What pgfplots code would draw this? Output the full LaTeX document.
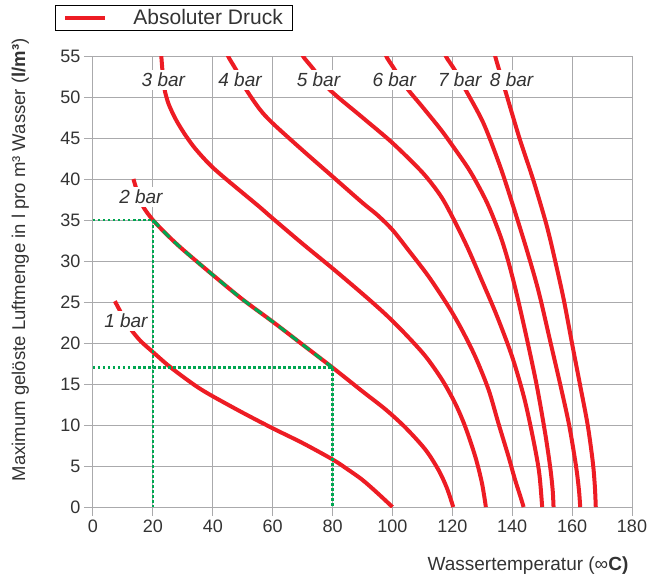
\documentclass[border=0pt]{standalone}
\usepackage{fontspec}
\setmainfont{Liberation Sans}
\usepackage{pgfplots}
\pgfplotsset{compat=1.18}
\definecolor{cred}{RGB}{237,28,36}
\definecolor{cgreen}{RGB}{0,166,81}
\definecolor{cgrid}{RGB}{170,170,172}
\definecolor{ctext}{RGB}{51,51,51}
\begin{document}
\begin{tikzpicture}
\begin{axis}[
  scale only axis, width=539pt, height=451pt,
  xmin=0, xmax=180, ymin=0, ymax=55,
  xtick={0,20,...,180}, ytick={0,5,...,55},
  grid=major, grid style={cgrid, line width=1pt},
  axis line style={cgrid, line width=1pt},
  tick style={cgrid, line width=1pt},
  tick align=outside, tick pos=left, major tick length=9pt,
  /pgf/number format/assume math mode=true,
  ticklabel style={font=\fontsize{18}{20}\selectfont, text=ctext},
  xlabel={Wassertemperatur (∞\textbf{C)}},
  ylabel={Maximum gelöste Luftmenge in l pro m³ Wasser (\textbf{l/m³})},
  xlabel style={font=\fontsize{19}{21}\selectfont, text=ctext, at={(axis description cs:0.807,-0.129)}, anchor=center},
  ylabel style={font=\fontsize{18.5}{20}\selectfont, text=ctext, at={(axis description cs:-0.135,0.548)}, anchor=center},
  legend style={at={(axis description cs:-0.0705,1.113)}, anchor=north west, draw=black, line width=0.8pt, fill=white,
    font=\fontsize{21}{23}\selectfont, text=ctext, inner xsep=8pt, inner ysep=2pt},
  legend image code/.code={\draw[#1] (0pt,0pt) -- (40pt,0pt);},
  every axis plot/.append style={line width=4pt},
]
% 1 bar
\addplot[cred, smooth, tension=0.5] coordinates {(7.3,25.1) (9.2,23.8) (11,22.6) (13.2,21.4) (16,20.2) (20,18.9) (25,17.3) (30,15.9) (35,14.6) (40,13.5) (50,11.5) (60,9.6) (70,7.8) (80,5.8) (85,4.6) (90,3.3) (95,1.7) (100,0)};
\addlegendentry{\hspace{24pt}Absoluter Druck\hspace{10pt}}
% 2 bar
\addplot[cred, smooth, tension=0.5, forget plot] coordinates {(13.5,40) (15,38.2) (16.8,36.6) (20,35) (25,33.1) (30,31.4) (40,28.3) (50,25.3) (60,22.6) (70,19.8) (80,17) (90,14.1) (97.7,11.9) (104.3,9.7) (111,7) (115.4,4.5) (118.2,2.3) (120.3,0)};
% 3 bar
\addplot[cred, smooth, tension=0.5, forget plot] coordinates {(22.55,56) (22.8,55) (23.2,53.2) (23.8,51.1) (25.2,49.2) (27.6,47.3) (30.4,45.6) (33.5,44.0) (36.8,42.6) (40,41.4) (44.4,40.0) (50,38.3) (55.6,36.6) (60,35.2) (70,32.1) (80,29.1) (90,26) (97.7,23.5) (104.3,21.1) (111,18.4) (116.6,15.5) (121,12.6) (124.3,9.8) (127.7,6.1) (129.9,2.9) (131.2,0)};
% 4 bar
\addplot[cred, smooth, tension=0.5, forget plot] coordinates {(44.8,56) (45.1,55) (47.8,53.3) (51,51) (55.7,48.5) (60,46.8) (70,43.5) (80,40.3) (90,37.1) (95,35.6) (100,33.8) (105.4,31.3) (112.1,28.1) (118.8,24.4) (123.2,21.6) (127.7,18.3) (132.1,14.3) (135.4,10.2) (138.8,6.1) (140.8,3.5) (142.8,1.2) (143.8,0)};
% 5 bar
\addplot[cred, smooth, tension=0.5, forget plot] coordinates {(69.5,56) (70.1,55) (73.4,53.5) (79,50.9) (90,47.5) (100,44.4) (110,40.8) (116,38) (120,35.4) (125,31.7) (130,27.5) (135,23.2) (140,18.3) (144,13.3) (147,8.3) (149,4.2) (150,0)};
% 6 bar
\addplot[cred, smooth, tension=0.5, forget plot] coordinates {(97.5,56) (97.9,55) (100.3,53.6) (104.8,51.1) (110,48.8) (116,46.1) (120,44.1) (126,40.9) (131.6,37.1) (136,33.1) (138.8,29.8) (141.6,25.8) (144.9,20.5) (148.2,14.8) (151,9) (152.7,4.8) (153.5,2.1) (153.8,0)};
% 7 bar
\addplot[cred, smooth, tension=0.5, forget plot] coordinates {(117.4,56) (117.8,55) (120.8,53.3) (124.4,50.9) (130.4,46.8) (136,41.5) (140.4,36.6) (144.9,31.3) (148.8,26.3) (152.7,20.2) (156,15) (159,10) (161.3,5) (162.3,2) (162.7,0)};
% 8 bar
\addplot[cred, smooth, tension=0.5, forget plot] coordinates {(134,56) (134.3,55) (135.8,53.1) (137.5,51) (142.4,45) (147.1,39.8) (151.6,34.2) (154.6,29.6) (157.2,25.3) (160,19.9) (162.7,14.8) (165.2,10) (166.9,5.5) (167.6,2.5) (167.9,0)};
% green guides
\addplot[cgreen, line width=3pt, dash pattern=on 9pt off 6pt, smooth, tension=0.5, forget plot] coordinates {(20,35) (25,33.1) (30,31.4) (40,28.3) (50,25.3) (60,22.6) (70,19.8) (80,17)};
\addplot[cgreen, line width=2.5pt, dash pattern=on 2.5pt off 2.5pt, forget plot] coordinates {(0,35) (20,35) (20,0)};
\addplot[cgreen, line width=2.5pt, dash pattern=on 2.5pt off 2.5pt, forget plot] coordinates {(0,17) (80,17) (80,0)};
% labels
\begin{scope}[every node/.style={fill=white, inner xsep=2pt, inner ysep=3pt, text=ctext, font=\itshape\fontsize{19}{20}\selectfont}]
\node at (axis cs:11,22.7) {1 bar};
\node at (axis cs:16,37.8) {2 bar};
\node at (axis cs:23.5,52.1) {3 bar};
\node at (axis cs:49.1,52.1) {4 bar};
\node at (axis cs:75.3,52.1) {5 bar};
\node at (axis cs:100.6,52.1) {6 bar};
\node at (axis cs:122.5,52.1) {7 bar};
\node at (axis cs:139.8,52.1) {8 bar};
\end{scope}
\coordinate (bl) at (rel axis cs:0,0);
\end{axis}
\pgfresetboundingbox
\path[use as bounding box] ([shift={(-93pt,-72pt)}]bl) rectangle ([shift={(560pt,507pt)}]bl);
\end{tikzpicture}
\end{document}
